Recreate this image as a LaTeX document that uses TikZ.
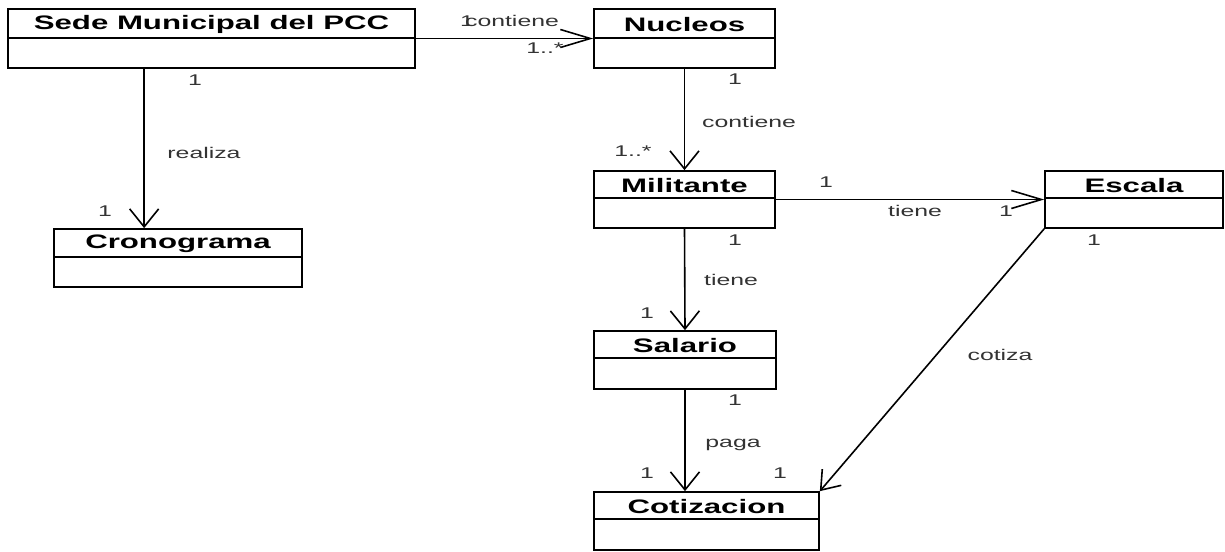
\documentclass[tikz,border=0pt]{standalone}
\usepackage{fontspec}
\setmainfont{Liberation Sans}
\usetikzlibrary{arrows.meta,fit}
\newcommand\stretchtxt[1]{\scalebox{1.6}[1]{#1}}
\newcommand\umlcls[7]{%
  \node[clsbox, fit={(#2,#3) (#4,#5)}] (#1) {};
  \draw[clsline] (#2,#6) -- (#4,#6);
  \node[hdr] (#1-t) at ({(#2+#4)/2},{(#3+#6)/2+1}) {\stretchtxt{#7}};
}
\tikzset{
  clsbox/.style={draw, inner sep=0pt, line width=1.7pt},
  clsline/.style={line width=1.6pt},
  hdr/.style={font=\bfseries\fontsize{19.5}{20}\selectfont, inner sep=0pt},
  lbl/.style={font=\fontsize{15.5}{16}\selectfont, text=black!80, inner sep=0pt},
  assocv/.style={line width=1.6pt, -{Straight Barb[length=18pt,width=29pt,line width=1.6pt]}},
  assoch/.style={line width=1.6pt, -{Straight Barb[length=30pt,width=18pt,line width=1.6pt]}},
  assocd/.style={line width=1.6pt, -{Straight Barb[length=17pt,width=25pt,line width=1.6pt]}},
}
\begin{document}
\begin{tikzpicture}[x=1pt,y=-1pt]
\useasboundingbox (0,0) rectangle (1225,551);
\fill[white] (0,0) rectangle (1225,551);
\umlcls{sede}{8}{9}{415}{68}{38}{Sede Municipal del PCC}
\umlcls{cron}{54}{229}{302}{287}{257}{Cronograma}
\umlcls{nuc}{594}{9}{775}{68}{38}{Nucleos}
\umlcls{mil}{594}{171}{775}{228}{198}{Militante}
\umlcls{esc}{1045}{171}{1223}{228}{198}{Escala}
\umlcls{sal}{594}{331}{776}{389}{358}{Salario}
\umlcls{cot}{594}{492}{819}{550}{519}{Cotizacion}

% connectors
\draw[assocv] ([xshift=137pt]sede.south west) -- ([xshift=91pt]cron.north west);
\draw[assoch] (sede.east) -- (nuc.west);
\draw[assocv] (nuc.south) -- (mil.north);
\draw[assoch] (mil.east) -- (esc.west);
\draw[assocv] (mil.south) -- (sal.north);
\draw[assocv] (sal.south) -- (sal.south |- cot.north);
\draw[assocd] (esc.south west) -- (cot.north east);

% labels
\node[lbl] (l1) at (195,80) {\stretchtxt{1}};
\node[lbl] (l2) at (204,153) {\stretchtxt{realiza}};
\node[lbl] (l3) at (105,211) {\stretchtxt{1}};
\node[lbl] (l4) at (467,21) {\stretchtxt{1}};
\node[lbl] (l5) at (512,21) {\stretchtxt{contiene}};
\node[lbl] (l6) at (545,48) {\stretchtxt{1..*}};
\node[lbl] (l7) at (735,79) {\stretchtxt{1}};
\node[lbl] (l8) at (749,122) {\stretchtxt{contiene}};
\node[lbl] (l9) at (633,151) {\stretchtxt{1..*}};
\node[lbl] (l10) at (826,182) {\stretchtxt{1}};
\node[lbl] (l11) at (915,211) {\stretchtxt{tiene}};
\node[lbl] (l12) at (1006,211) {\stretchtxt{1}};
\node[lbl] (l13) at (1094,240) {\stretchtxt{1}};
\node[lbl] (l14) at (735,240) {\stretchtxt{1}};
\node[lbl] (l15) at (731,280) {\stretchtxt{tiene}};
\node[lbl] (l16) at (647,313) {\stretchtxt{1}};
\node[lbl] (l17) at (1000,355) {\stretchtxt{cotiza}};
\node[lbl] (l18) at (735,400) {\stretchtxt{1}};
\node[lbl] (l19) at (733,445) {\stretchtxt{paga}};
\node[lbl] (l20) at (647,473) {\stretchtxt{1}};
\node[lbl] (l21) at (780,473) {\stretchtxt{1}};
\end{tikzpicture}
\end{document}
